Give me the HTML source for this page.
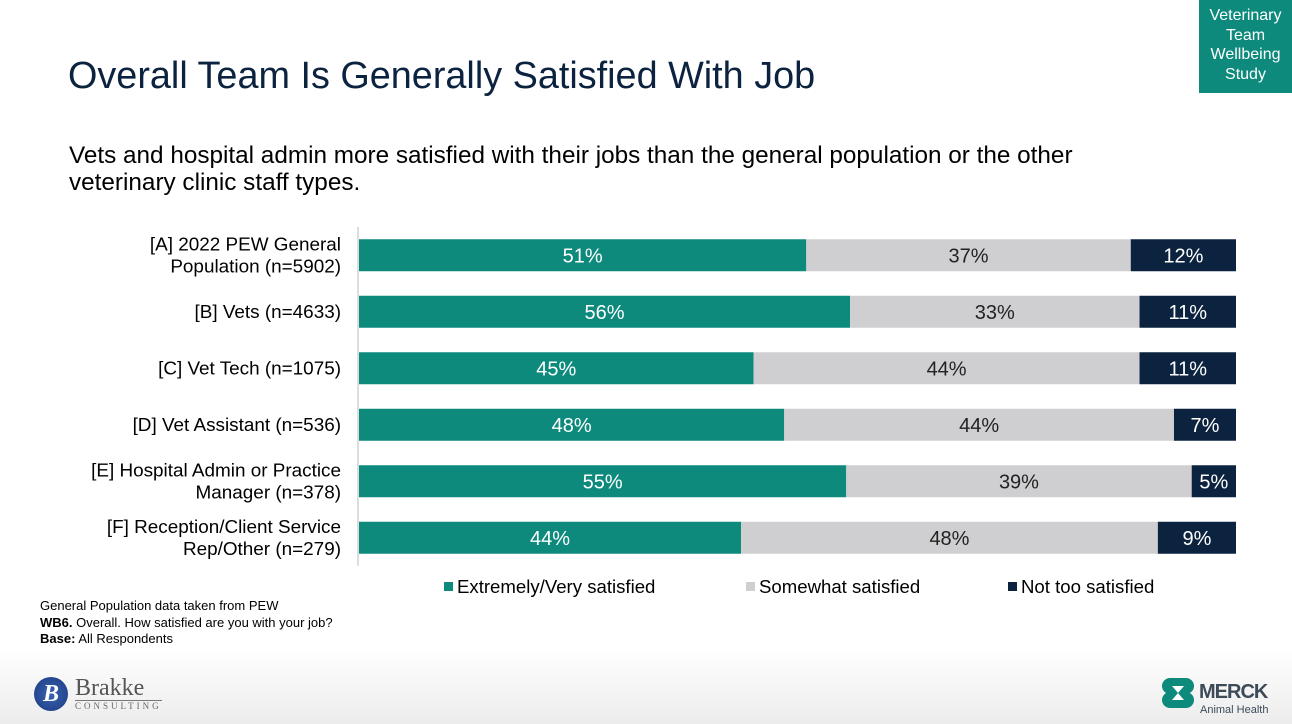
<!DOCTYPE html>
<html><head><meta charset="utf-8"><style>
body{margin:0;width:1292px;height:724px;overflow:hidden;background:#fff;font-family:"Liberation Sans",Arial,sans-serif;position:relative}
.abs{position:absolute}
</style></head><body>
<div class="abs" style="left:0;top:650px;width:1292px;height:74px;background:linear-gradient(#fff,#ececec)"></div>
<div class="abs" style="left:1199px;top:0;width:93px;height:93px;background:#0e8a7d;color:#fff;font-size:16px;line-height:19.5px;text-align:center;padding-top:6px;box-sizing:border-box">Veterinary<br>Team<br>Wellbeing<br>Study</div>
<div class="abs" style="left:68px;top:55px;font-size:37.8px;color:#0c2340">Overall Team Is Generally Satisfied With Job</div>
<div class="abs" style="left:69px;top:142px;font-size:24.3px;line-height:27px;color:#000">Vets and hospital admin more satisfied with their jobs than the general population or the other<br>veterinary clinic staff types.</div>
<svg class="abs" style="left:0;top:0" width="1292" height="724">
<g id="g"></g>
</svg>
<div class="abs" style="left:40px;top:598px;font-size:13px;line-height:16.5px;color:#000">General Population data taken from PEW<br><b>WB6.</b> Overall. How satisfied are you with your job?<br><b>Base:</b> All Respondents</div>
<div class="abs" style="left:34px;top:677px;width:34px;height:34px;border-radius:50%;background:radial-gradient(#3a63b0,#1a3a80);color:#fff;font:italic bold 24px 'Liberation Serif',serif;text-align:center;line-height:34px">B</div>
<div class="abs" style="left:75px;top:676px;font:24px 'Liberation Serif',serif;color:#555;line-height:24px">Brakke</div>
<div class="abs" style="left:75px;top:700px;font:9px 'Liberation Serif',serif;letter-spacing:3px;color:#666;border-top:1px solid #777">CONSULTING</div>
<svg class="abs" style="left:1161px;top:677px" width="34" height="32"><circle cx="9" cy="9" r="8" fill="#0e8a7d"/><circle cx="25" cy="9" r="8" fill="#0e8a7d"/><circle cx="9" cy="23" r="8" fill="#0e8a7d"/><circle cx="25" cy="23" r="8" fill="#0e8a7d"/><rect x="9" y="1" width="16" height="30" fill="#0e8a7d"/><path d="M11 9 L23 9 L17 16 L23 23 L11 23 L17 16Z" fill="#fff"/></svg>
<div class="abs" style="left:1199px;top:681px;font-weight:bold;font-size:20px;color:#3d4a57;letter-spacing:-1px">MERCK</div>
<div class="abs" style="left:1200px;top:704px;font-size:11px;color:#3d4a57">Animal Health</div>
<script>
const categories=[["[A] 2022 PEW General","Population (n=5902)"],["[B] Vets (n=4633)"],["[C] Vet Tech (n=1075)"],["[D] Vet Assistant (n=536)"],["[E] Hospital Admin or Practice","Manager (n=378)"],["[F] Reception/Client Service","Rep/Other (n=279)"]];
const extremely=[51,56,45,48,55,44];
const somewhat=[37,33,44,44,39,48];
const notToo=[12,11,11,7,5,9];
const seriesNames=["Extremely/Very satisfied","Somewhat satisfied","Not too satisfied"];
const colors=["#0e8a7d","#cfcfd1","#0c2340"];
const textColors=["#fff","#222","#fff"];
const NS="http://www.w3.org/2000/svg";
const g=document.getElementById('g');
const x0=359,W=877,y0=227,rowH=56.5,barH=32;
const xs=v=>v/100*W;
const yc=i=>y0+rowH*(i+0.5);
function mk(t,a){const e=document.createElementNS(NS,t);for(const k in a)e.setAttribute(k,a[k]);g.appendChild(e);return e;}
const series=[extremely,somewhat,notToo];
categories.forEach((c,i)=>{
  const tot=extremely[i]+somewhat[i]+notToo[i];
  let x=x0;
  series.forEach((s,j)=>{
    const w=xs(s[i]*100/tot);
    const r=mk('rect',{x:x,y:yc(i)-barH/2,width:w,height:barH,fill:colors[j]});
    
    
    const t=mk('text',{x:x+w/2,y:yc(i)+7,'text-anchor':'middle','font-size':20,fill:textColors[j]});
    
    
    t.textContent=s[i]+'%';
    x+=w;
  });
  const l=mk('text',{x:341,'text-anchor':'end','font-size':18.9,fill:'#000'});
  
  
  c.forEach((line,k)=>{const ts=document.createElementNS(NS,'tspan');ts.setAttribute('x',341);ts.setAttribute('y',yc(i)+6+(k-(c.length-1)/2)*22);ts.textContent=line;l.appendChild(ts);});
});
const ax=mk('line',{x1:358,x2:358,y1:y0,y2:y0+rowH*6,stroke:'#bbb','stroke-width':1});


const lx=[444,746,1008];
seriesNames.forEach((n,j)=>{
  const r=mk('rect',{x:lx[j],y:582,width:9,height:9,fill:colors[j]});
  
  
  const t=mk('text',{x:lx[j]+13,y:593,'font-size':18.6,fill:'#000'});
  
  
  t.textContent=n;
});
</script>
</body></html>
